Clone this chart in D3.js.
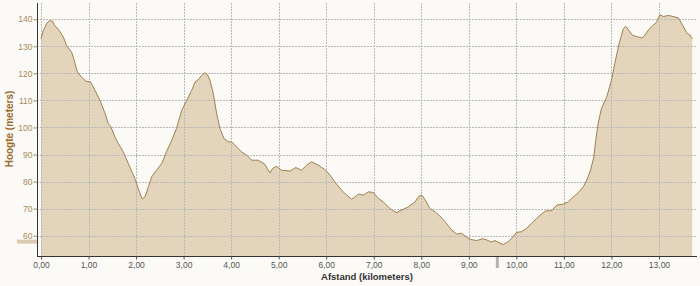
<!DOCTYPE html>
<html>
<head>
<meta charset="utf-8">
<script src="https://cdn.jsdelivr.net/npm/d3@7"></script>
<style>
  body { margin: 0; background: #fbfaf6; }
  svg { display: block; font-family: "Liberation Sans", Arial, sans-serif; }
</style>
</head>
<body>
<div id="profile"></div>
<script>
// DATA
const distanceKm = [
  0.0, 0.05, 0.12, 0.175, 0.24, 0.29, 0.385, 0.47, 0.54, 0.645, 0.69, 0.765,
  0.856, 0.946, 1.045, 1.136, 1.24, 1.35, 1.416, 1.466, 1.556, 1.626, 1.731,
  1.836, 1.93, 2.0, 2.07, 2.13, 2.19, 2.26, 2.33, 2.43, 2.54, 2.64, 2.75, 2.85,
  2.96, 3.065, 3.17, 3.24, 3.31, 3.38, 3.435, 3.5, 3.555, 3.625, 3.695, 3.765,
  3.85, 3.94, 4.01, 4.116, 4.22, 4.327, 4.43, 4.57, 4.71, 4.76, 4.817, 4.87,
  4.956, 5.06, 5.24, 5.36, 5.48, 5.59, 5.69, 5.83, 5.97, 6.08, 6.18, 6.325,
  6.43, 6.535, 6.6, 6.675, 6.78, 6.885, 6.99, 7.095, 7.2, 7.34, 7.47, 7.59,
  7.73, 7.87, 7.94, 8.01, 8.08, 8.18, 8.29, 8.39, 8.5, 8.64, 8.745, 8.85, 8.92,
  9.02, 9.165, 9.3, 9.41, 9.48, 9.55, 9.64, 9.72, 9.83, 9.92, 10.0, 10.11,
  10.215, 10.32, 10.43, 10.53, 10.62, 10.74, 10.85, 10.99, 11.09, 11.2, 11.3,
  11.41, 11.48, 11.56, 11.63, 11.67, 11.72, 11.79, 11.9, 12.0, 12.07, 12.16,
  12.25, 12.3, 12.37, 12.45, 12.53, 12.64, 12.7, 12.78, 12.87, 12.95, 13.02,
  13.09, 13.2, 13.3, 13.41, 13.5, 13.59, 13.65, 13.7
];
const elevationM = [
  132.8, 135.8, 138.5, 139.4, 139.3, 137.7, 135.8, 133.4, 130.3, 127.8, 125.4,
  120.5, 118.6, 117.1, 116.8, 113.7, 110, 105.1, 101.4, 100.4, 96.5, 94.1, 91,
  86.7, 83, 79.9, 76.2, 73.6, 74.4, 78.1, 81.8, 84.2, 86.7, 91, 95.3, 99.6,
  106.3, 110, 113.7, 116.8, 117.7, 119.2, 120.2, 119.6, 117.4, 112.5, 105.1,
  99.6, 95.9, 94.7, 94.7, 92.8, 91, 89.8, 87.9, 87.9, 86.4, 84.8, 83.2, 84.8,
  85.7, 84.2, 83.9, 85.2, 84.2, 86.1, 87.3, 86.1, 84.5, 82.4, 79.9, 76.8, 75,
  73.5, 74.2, 75.4, 75, 76.2, 76, 73.8, 72.5, 70.1, 68.5, 69.5, 70.7, 72.5,
  74.4, 75, 73.4, 70.1, 68.8, 67.3, 65.2, 62.1, 60.6, 60.9, 59.9, 58.7, 58.2,
  58.9, 58.2, 57.7, 58.2, 57.4, 56.7, 57.8, 59.4, 61.2, 61.5, 62.7, 64.6, 66.4,
  68, 69.2, 69.2, 71.3, 71.7, 72.5, 74.4, 75.9, 78.1, 80.5, 84.2, 89.1, 95.3,
  101.4, 107, 111.2, 117.4, 123.6, 130.9, 136.5, 137.4, 135.8, 134, 133.6,
  133.1, 134, 136.1, 137.7, 138.9, 141.7, 141, 141.4, 141, 140.5, 137.7, 134.8,
  134.2, 132.8
];
const xTicks = [0, 1, 2, 3, 4, 5, 6, 7, 8, 9, 10, 11, 12, 13];
const yTicks = [60, 70, 80, 90, 100, 110, 120, 130, 140];
const minElevationMarker = 57.8;
const cursorKm = 9.6;

const WIDTH = 700;
const HEIGHT = 286;
const PLOT = { LEFT: 37, RIGHT: 697, TOP: 3, BOTTOM: 256 };

const profile = distanceKm.map((d, i) => ({ km: d, m: elevationM[i] }));

// CANVAS
const svg = d3
  .select("#profile")
  .append("svg")
  .attr("width", WIDTH)
  .attr("height", HEIGHT);

svg.append("rect")
  .attr("width", WIDTH)
  .attr("height", HEIGHT)
  .attr("fill", "#fbfaf6");

// SCALE
const x = d3.scaleLinear().domain([-0.084, 13.8]).range([PLOT.LEFT, PLOT.RIGHT]);
const y = d3.scaleLinear().domain([52.5, 146]).range([PLOT.BOTTOM, PLOT.TOP]);

// AREA
const area = d3
  .area()
  .x((d) => x(d.km))
  .y0(PLOT.BOTTOM)
  .y1((d) => y(d.m));

const line = d3
  .line()
  .x((d) => x(d.km))
  .y((d) => y(d.m));

svg.append("path")
  .datum(profile)
  .attr("d", area)
  .attr("fill", "#e3d4bc");

// GRID
svg.append("g")
  .selectAll("line")
  .data(yTicks)
  .enter()
  .append("line")
  .attr("x1", PLOT.LEFT)
  .attr("x2", PLOT.RIGHT)
  .attr("y1", (d) => Math.round(y(d)) + 0.5)
  .attr("y2", (d) => Math.round(y(d)) + 0.5)
  .attr("stroke", "#b9b9b9")
  .attr("stroke-dasharray", "2,1")
  .attr("stroke-width", 1);

svg.append("g")
  .selectAll("line")
  .data(xTicks)
  .enter()
  .append("line")
  .attr("x1", (d) => Math.round(x(d)) + 0.5)
  .attr("x2", (d) => Math.round(x(d)) + 0.5)
  .attr("y1", PLOT.TOP)
  .attr("y2", PLOT.BOTTOM)
  .attr("stroke", "#b9b9b9")
  .attr("stroke-dasharray", "2,1")
  .attr("stroke-width", 1);

svg.append("path")
  .datum(profile)
  .attr("d", line)
  .attr("fill", "none")
  .attr("stroke", "#a0804f")
  .attr("stroke-width", 1);

// AXIS
svg.append("g")
  .attr("transform", `translate(0, ${PLOT.BOTTOM + 0.5})`)
  .call(d3.axisBottom(x).tickValues(xTicks).tickSize(3).tickSizeOuter(0)
    .tickFormat((d) => d3.format(".2f")(d).replace(".", ",")))
  .call((g) => {
    g.select(".domain").attr("stroke", "#333").attr("d", `M${PLOT.LEFT},0H${PLOT.RIGHT}`);
    g.selectAll(".tick line").attr("stroke", "#555");
    g.selectAll(".tick text")
      .attr("y", 5)
      .attr("font-size", "8.5px")
      .attr("font-family", "'Liberation Sans', Arial, sans-serif")
      .attr("fill", "#555");
  });

svg.append("g")
  .attr("transform", `translate(${PLOT.LEFT + 0.5}, 0)`)
  .call(d3.axisLeft(y).tickValues(yTicks).tickSize(4).tickSizeOuter(0))
  .call((g) => {
    g.select(".domain").attr("stroke", "#333").attr("d", `M0,${PLOT.TOP}V${PLOT.BOTTOM}`);
    g.selectAll(".tick line").attr("stroke", "#a88a5c");
    g.selectAll(".tick text")
      .attr("x", -5)
      .attr("font-size", "8.5px")
      .attr("font-family", "'Liberation Sans', Arial, sans-serif")
      .attr("fill", "#a88a5c");
  });

// MARKERS
svg.append("rect")
  .attr("x", 17)
  .attr("y", y(minElevationMarker) - 2)
  .attr("width", PLOT.LEFT - 17)
  .attr("height", 4)
  .attr("fill", "#dccab0");

svg.append("rect")
  .attr("x", x(cursorKm) - 1.5)
  .attr("y", PLOT.BOTTOM + 1)
  .attr("width", 3)
  .attr("height", 11)
  .attr("fill", "#b4b4b4");

// LABEL
svg.append("text")
  .attr("x", 367)
  .attr("y", 279.5)
  .attr("text-anchor", "middle")
  .attr("font-size", "9.5px")
  .attr("font-weight", "bold")
  .attr("fill", "#333")
  .text("Afstand (kilometers)");

svg.append("text")
  .attr("transform", "translate(12.5, 129) rotate(-90)")
  .attr("text-anchor", "middle")
  .attr("font-size", "10px")
  .attr("font-weight", "bold")
  .attr("fill", "#9a6a2c")
  .text("Hoogte (meters)");
</script>
</body>
</html>
